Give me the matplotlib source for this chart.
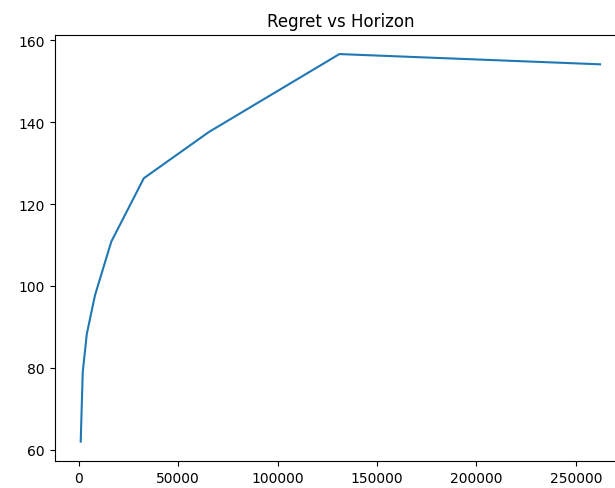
import matplotlib
matplotlib.use("Agg")
import matplotlib.pyplot as plt

# horizons and regret
horizons = [1024, 2048, 4096, 8192, 16384, 32768, 65536, 131072, 262144]
regret = [62.0, 79.0, 88.3, 97.7, 110.8, 126.3, 137.6, 156.6, 154.1]

fig = plt.figure(figsize=(6.15, 4.89), dpi=100)
# the reference is cropped on the right, so the axes runs past the figure edge
ax = fig.add_axes([0.089, 0.0552, 0.929, 0.8718])
ax.plot(horizons, regret)
ax.set_title("Regret vs Horizon")
ax.set_yticks([60, 80, 100, 120, 140, 160])
fig.savefig("out.png", dpi=100)
